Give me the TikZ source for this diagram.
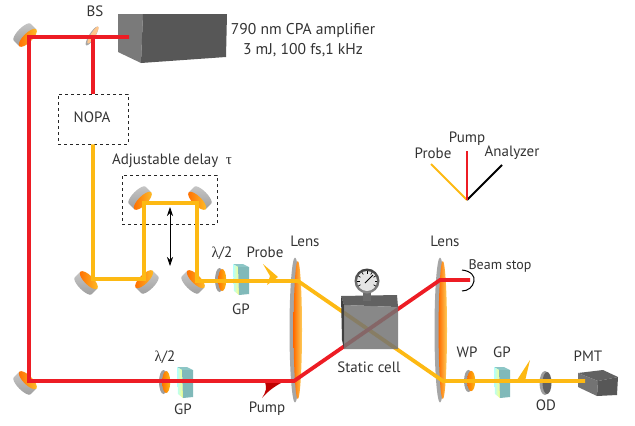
\documentclass[tikz,border=0pt]{standalone}
\usepackage{amsmath,amssymb}
\usepackage{fontspec}
\setmainfont{PT Sans}
\newfontfamily\grk{Liberation Serif}
\usetikzlibrary{arrows.meta}
\definecolor{redbeam}{HTML}{ED1C24}
\definecolor{yellowbeam}{HTML}{FDB913}
\definecolor{txtgray}{HTML}{333333}

\begin{document}
\begin{tikzpicture}[
  x=1pt, y=-1pt,
  lbl/.style={font=\fontsize{15}{20}\selectfont, text=txtgray, inner sep=0pt, align=center},
  redline/.style={draw=redbeam, line width=3.8pt, line join=miter},
  yellowline/.style={draw=yellowbeam, line width=3.8pt, line join=miter},
  dashbox/.style={draw=black!85, dashed, line width=0.7pt},
  mirror/.pic={
    \path[shade, top color=black!22, middle color=black!10, bottom color=black!38]
      (4,-12) -- (-4,-12) arc[start angle=-90, end angle=-270, x radius=4, y radius=12] -- (4,12) -- cycle;
    \path[shade, left color=orange!85!red, right color=yellowbeam!90!white]
      (4,0) ellipse[x radius=4.5, y radius=12];
  },
  plate/.pic={
    \fill[black!38] (-1.5,0) ellipse[x radius=4.5, y radius=12];
    \path[shade, left color=orange!90!red, right color=yellowbeam] (1.2,0) ellipse[x radius=4, y radius=11];
  },
  glan/.pic={
    \fill[teal!45!white] (0,0) -- (10,0) -- (16,3) -- (5,3) -- cycle;
    \path[shade, left color=cyan!30!white, right color=yellow!50!white] (0,0) -- (5,3) -- (6,31) -- (1,27) -- cycle;
    \fill[teal!50!white!90!gray] (5,3) -- (16,3) -- (16,30) -- (6,31) -- cycle;
  },
  lensp/.pic={
    \fill[black!35] (-1,0) ellipse[x radius=5.5, y radius=72.5];
    \path[shade, left color=orange!85!red, right color=yellowbeam!70!white] (1.8,0) ellipse[x radius=4.2, y radius=69];
  }
]
\useasboundingbox (0,0) rectangle (635,426);

% optics
\pic at (25,35) [rotate=-45] {mirror};
\pic at (25,383) [rotate=45] {mirror};
\pic at (140,198) [rotate=-45] {mirror};
\pic at (200,198) [rotate=-135] {mirror};
\pic at (86,283) [rotate=45] {mirror};
\pic at (147,282) [rotate=135] {mirror};
\pic at (193,282) [rotate=45] {mirror};
\pic at (221,280) {plate};
\pic at (165,382) {plate};
\pic at (470,381) [yscale=0.92] {plate};
\pic at (233,264) {glan};
\pic at (177,367) {glan};
\pic at (494,367) {glan};
\pic at (296,330) {lensp};
\pic at (441,330) {lensp};
\fill[black!35] (92,36) ellipse[x radius=11, y radius=3, rotate=58];
\fill[orange!45!white] (93,35) ellipse[x radius=10, y radius=2.3, rotate=58];
\fill[black!38] (545,383) ellipse[x radius=5.5, y radius=12];
\fill[black!62] (547,383) ellipse[x radius=4.5, y radius=11];

% amplifier and detector
\fill[black!52] (118,14) -- (143,14) -- (141,63) -- (118,52) -- cycle;
\fill[black!66] (143,14) -- (227,14) -- (226,57) -- (141,63) -- cycle;
\fill[black!62] (578,373) -- (603,370) -- (618,377) -- (598,381) -- cycle;
\fill[black!55] (578,373) -- (598,381) -- (597,396) -- (578,387) -- cycle;
\fill[black!66] (598,381) -- (618,377) -- (617,395) -- (597,396) -- cycle;

% dashed boxes
\node[dashbox, minimum width=70pt, minimum height=50pt, inner sep=0pt] (nopa) at (93,119) {};
\node[dashbox, minimum width=95pt, minimum height=49pt, inner sep=0pt] (delaybox) at (169.5,199.5) {};
\node[lbl] (nopalbl) at (92,117) {NOPA};

% beam corners
\coordinate (ampout) at (129,37);
\coordinate (mtop) at (29,37);
\coordinate (mbot) at (29,381);
\coordinate (bs) at (93,37);
\coordinate (lensa) at (294,381);
\coordinate (lensb) at (440,280);
\coordinate (stopend) at (470,280);
\coordinate (m5) at (93,279);
\coordinate (m6) at (144,279);
\coordinate (m3) at (144,203);
\coordinate (m4) at (197,203);
\coordinate (m7) at (197,281);
\coordinate (lensc) at (298,281);
\coordinate (lensd) at (443,381);
\coordinate (pmtin) at (585,381);

% flags
\fill[yellowbeam] (263,264) -- (278,277) -- (267,285) -- (270,276) -- cycle;
\fill[yellowbeam] (530,360) -- (517,380) -- (525,381) -- cycle;
\fill[red!75!black] (262,398) .. controls (266,392) and (267,388) .. (265,382) -- (283,382) .. controls (275,386) and (268,391) .. (262,398) -- cycle;

% beams
\draw[yellowline] (nopa.south) -- (m5) -- (m6) -- (m3) -- (m4) -- (m7) -- (lensc) -- (lensd) -- (pmtin);
\draw[redline] (bs) -- (nopa.north);
\draw[redline] (ampout) -- (mtop) -- (mbot) -- (lensa) -- (lensb) -- (stopend);
\draw[black, line width=1pt] (462,270) .. controls (471,271) and (475,276) .. (474,281) .. controls (473,287) and (468,291) .. (462,291);
\draw[{Stealth[length=9pt,width=6pt]}-{Stealth[length=9pt,width=6pt]}, line width=0.7pt] (170,207) -- (170,266);

% cell
\fill[black!62] (341,296) -- (397,295) -- (398,307) -- (344,305) -- cycle;
\fill[black!75] (341,296) -- (344,305) -- (344,349) -- (342,340) -- cycle;
\fill[black!55, opacity=0.85] (344,305) -- (398,307) -- (398,349) -- (344,349) -- cycle;
\fill[black!58] (363,292) rectangle (371,301);
\path[shade, top color=black!75, bottom color=black!45] (367,281) circle[radius=12.5];
\fill[black!10] (367,281) circle[radius=10];
\foreach \ang in {-30,0,...,210}
  \draw[black, line width=0.6pt] (367,281) ++(-\ang:10) -- ++(-\ang:-2.5);
\draw[black, line width=1pt] (365,283) -- (373,275);

% polarisation directions
\coordinate (polorg) at (467,200);
\coordinate (polprobe) at (431,164);
\coordinate (polpump) at (467,151);
\coordinate (polana) at (502,165);
\draw[yellowbeam, line width=1.8pt] (polorg) -- (polprobe);
\draw[black, line width=1.8pt] (polorg) -- (polana);
\draw[redbeam, line width=2.4pt] (polorg) -- (polpump);

% labels
\node[lbl] (bslbl) at (95,11) {BS};
\node[lbl, font=\fontsize{15.6}{20}\selectfont] (amplbl) at (303,40) {790 nm CPA amplifier\\3 mJ, 100 fs,1 kHz};
\node[lbl] (delaylbl) at (172,161) {Adjustable delay\enspace{\grk τ}};
\node[lbl] (wpa) at (222,253) {{\grk λ}/2};
\node[lbl] (probelbl) at (265,252) {Probe};
\node[lbl] (lensalbl) at (305,241) {Lens};
\node[lbl] (lensblbl) at (445,241) {Lens};
\node[lbl, font=\fontsize{14}{16}\selectfont] (stoplbl) at (500,266) {Beam stop};
\node[lbl] (gpa) at (241,309) {GP};
\node[lbl] (celllbl) at (369,367) {Static cell};
\node[lbl] (wplbl) at (467,352) {WP};
\node[lbl] (gpc) at (502,352) {GP};
\node[lbl] (odlbl) at (546,405) {OD};
\node[lbl] (pmtlbl) at (588,356) {PMT};
\node[lbl] (wpb) at (165,357) {{\grk λ}/2};
\node[lbl] (gpb) at (183,409) {GP};
\node[lbl] (pumplbl) at (267,409) {Pump};
\node[lbl] (polprobelbl) at (433,153) {Probe};
\node[lbl] (polpumplbl) at (467,139) {Pump};
\node[lbl] (polanalbl) at (512,153) {Analyzer};

\end{tikzpicture}
\end{document}
